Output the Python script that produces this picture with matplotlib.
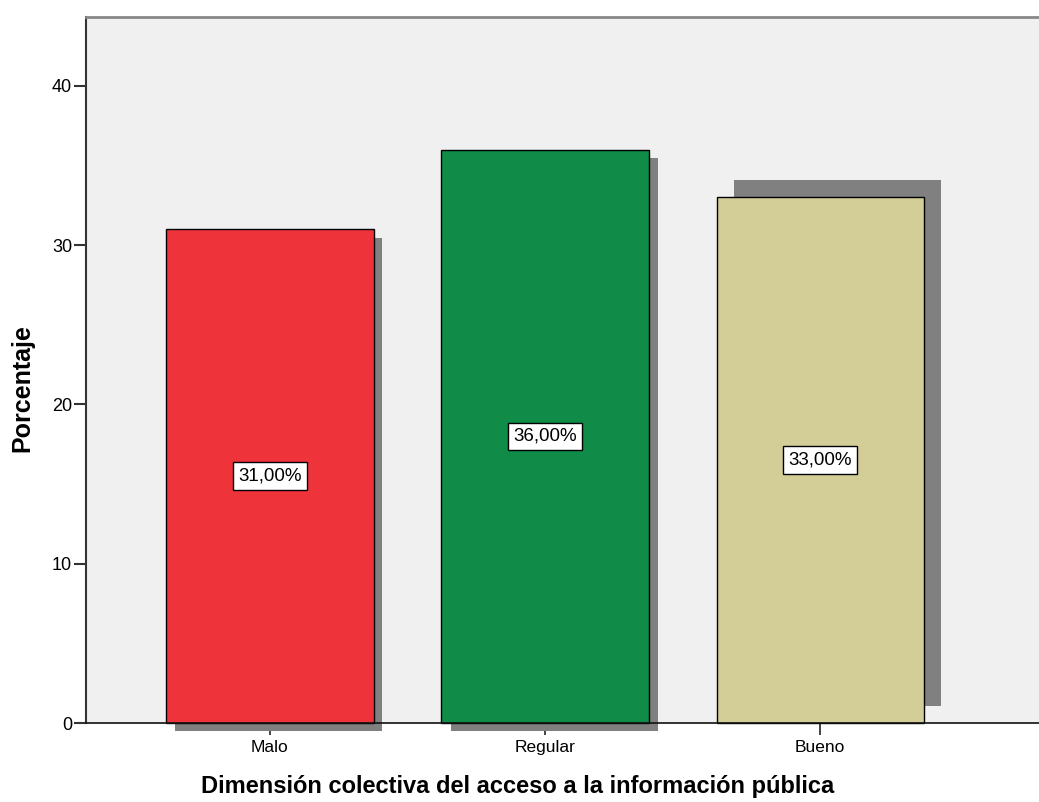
import matplotlib
matplotlib.use("Agg")
import matplotlib.pyplot as plt
import matplotlib.patheffects as pe

categories = ['Malo', 'Regular', 'Bueno']
percentages = [31.0, 36.0, 33.0]
bar_colors = ['#EF333B', '#108B48', '#D3CE97']
# shadow offsets (points) as they appear in the SPSS output
shadow_offsets = [(6, -6), (7, -6), (12.5, 12.5)]

plt.rcParams['font.family'] = ['Liberation Sans', 'DejaVu Sans']

fig = plt.figure(figsize=(10.39, 8.02), dpi=100)
ax = fig.add_axes([86 / 1039, 1 - 723 / 802, 1 - 86 / 1039, (723 - 17) / 802])
ax.set_facecolor('#F0F0F0')

xpos = list(range(len(categories)))
bars = ax.bar(xpos, percentages, width=0.753, color=bar_colors,
              edgecolor='black', linewidth=1.0, zorder=2)
for b, off in zip(bars, shadow_offsets):
    b.set_clip_on(False)
    b.set_path_effects([pe.SimplePatchShadow(offset=off, shadow_rgbFace='#808080',
                                             alpha=1.0), pe.Normal()])

# value labels in the middle of each bar
for x, v in zip(xpos, percentages):
    ax.text(x, v / 2, ('%.2f%%' % v).replace('.', ','), ha='center', va='center',
            fontsize=13.5, zorder=5,
            bbox=dict(boxstyle='square,pad=0.28', facecolor='white',
                      edgecolor='black', linewidth=1.0))

ax.set_xlim(-0.669, 2.796)
ax.set_ylim(0, 44.33)
ax.set_yticks([0, 10, 20, 30, 40])
ax.set_xticks(xpos)
ax.set_xticklabels(categories)
ax.tick_params(axis='y', length=8.5, width=1.5, color='#333333', pad=1.5, labelsize=13)
ax.tick_params(axis='x', length=8.5, width=1.2, color='#222222', pad=4, labelsize=12.5)

ax.spines['right'].set_visible(False)
ax.spines['top'].set_color('#888888')
ax.spines['top'].set_linewidth(2)
ax.spines['left'].set_color('#333333')
ax.spines['left'].set_linewidth(1.5)
ax.spines['bottom'].set_color('#111111')
ax.spines['bottom'].set_linewidth(1.2)

fig.text(518 / 1039, 1 - 786 / 802, 'Dimensión colectiva del acceso a la información pública',
         ha='center', va='center', fontsize=17, fontweight='bold')
fig.text(22 / 1039, 1 - 388 / 802, 'Porcentaje', ha='center', va='center',
         rotation=90, fontsize=18, fontweight='bold')

fig.savefig('out.png', dpi=100)
